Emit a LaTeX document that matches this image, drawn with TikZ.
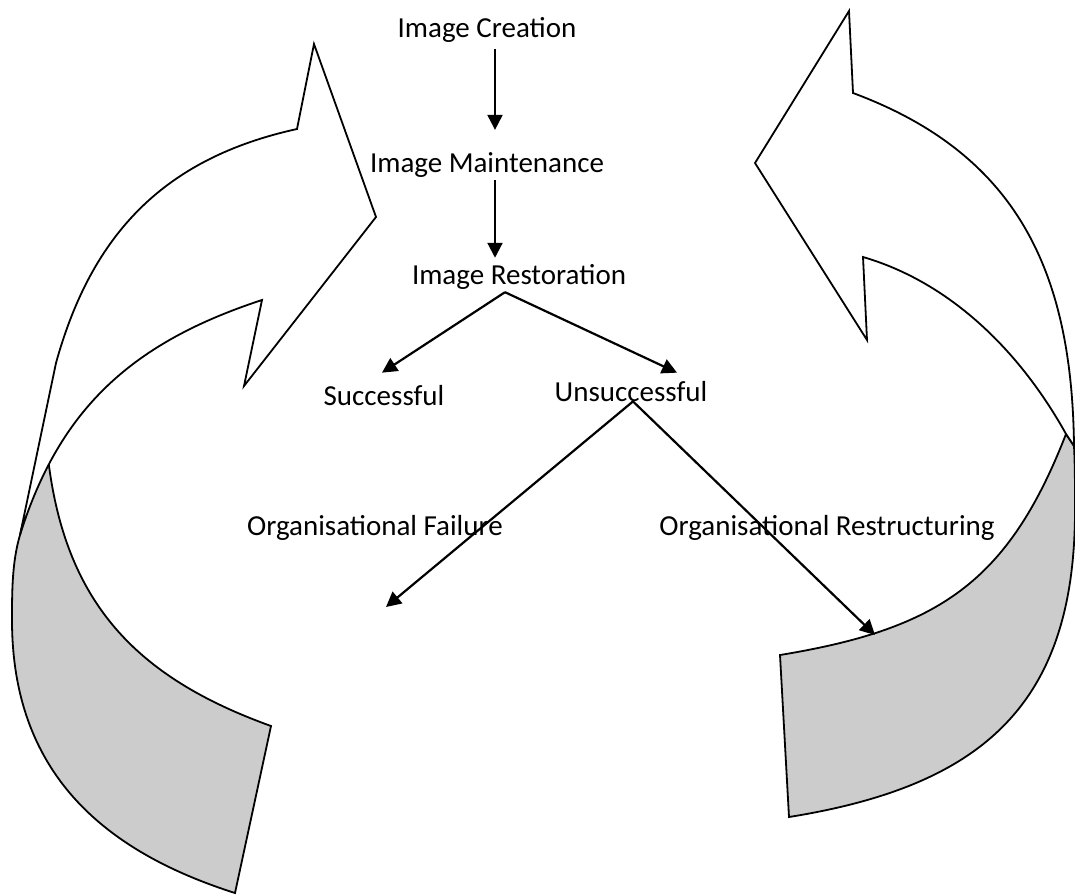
\documentclass[tikz,border=0pt]{standalone}
\usepackage{fontspec}
\setmainfont{Carlito}
\usetikzlibrary{arrows.meta}
\definecolor{bandgray}{HTML}{CCCCCC}

\begin{document}
\begin{tikzpicture}[x=1pt,y=-1pt,>={Triangle[length=15pt,width=15pt]},
  font=\fontsize{29}{34}\selectfont,line join=miter,
  lbl/.style={anchor=base,inner sep=3pt},
  conn/.style={->,line width=2.2pt},
  frontband/.style={draw,fill=white,line width=1.8pt},
  backband/.style={draw,fill=bandgray,line width=1.8pt}]
\useasboundingbox (0,0) rectangle (1075,895);
% left curved arrow
\draw[backband] (20,535) .. controls (12,562) and (12,592) .. (12,620)
  .. controls (12,770) and (100,850) .. (235,893) -- (271,726)
  .. controls (135,677) and (65,602) .. (48,458)
  .. controls (38,478) and (27,505) .. cycle;
\draw[frontband] (376,217) -- (314,44) -- (297,129)
  .. controls (165,158) and (92,233) .. (56,363) -- (20,535)
  .. controls (60,407) and (134,342) .. (262,300) -- (244,386) -- cycle;
% right curved arrow
\draw[backband] (1066,434) -- (1074,446) .. controls (1075,465) and (1075,490) .. (1075,510)
  .. controls (1075,705) and (982,786) .. (789,817) -- (780,655)
  .. controls (938,629) and (1008,583) .. (1066,434) -- cycle;
\draw[frontband] (755,163) -- (849,11) -- (853,93)
  .. controls (1017,154) and (1072,271) .. (1074,446) -- (1066,434)
  .. controls (1021,353) and (952,283) .. (863,257) -- (867,340) -- cycle;
% labels
\node[lbl] (creat) at (487,37) {Image Creation};
\node[lbl] (maint) at (487,172) {Image Maintenance};
\node[lbl] (rest) at (519,284) {Image Restoration};
\node[lbl] (succ) at (384,405) {Successful};
\node[lbl] (unsucc) at (631,401) {Unsuccessful};
\node[lbl] (fail) at (375,535) {Organisational Failure};
\node[lbl] (restr) at (827,535) {Organisational Restructuring};
% connectors
\coordinate (restfork) at ([xshift=-14pt]rest.south);
\coordinate (unsuccfork) at ([xshift=2pt,yshift=3pt]unsucc.south);
\coordinate (failtip) at (386,607);
\coordinate (restrtip) at (875,635);
\draw[conn,shorten <=4pt,shorten >=19pt] ([xshift=8pt]creat.south) -- ([xshift=8pt]creat.south |- maint.north);
\draw[conn,shorten >=3pt] ([xshift=8pt]maint.south) -- ([xshift=8pt]maint.south |- rest.north);
\draw[conn] (restfork) -- ([xshift=-2pt,yshift=9pt]succ.north);
\draw[conn] (restfork) -- ([xshift=46pt,yshift=5pt]unsucc.north);
\draw[conn] (unsuccfork) -- (failtip);
\draw[conn] (unsuccfork) -- (restrtip);
\end{tikzpicture}
\end{document}
